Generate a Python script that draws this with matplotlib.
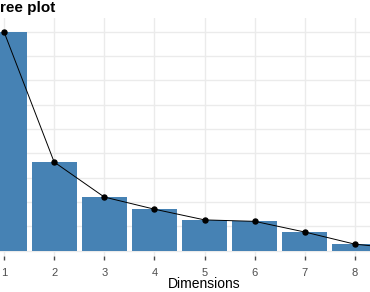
import matplotlib
matplotlib.use('Agg')
import matplotlib.pyplot as plt

plt.rcParams['font.family'] = ['Liberation Sans', 'DejaVu Sans']

# explained variance (%) per dimension
dims = [1, 2, 3, 4, 5, 6, 7, 8, 9]
variance = [45.0, 18.2, 11.0, 8.5, 6.3, 6.0, 3.8, 1.3, 0.3]
tick_labels = ['1', '2', '3', '4', '5', '6', '7', '8', '9']

fig = plt.figure(figsize=(3.7, 2.92), dpi=100)
# panel spans the whole width (the picture is cropped on both sides)
ax = fig.add_axes([0, (292 - 256) / 292, 1, (256 - 18) / 292])

ax.bar(dims, variance, width=0.9, color='#4682B4', zorder=2)
ax.plot(dims, variance, color='black', linewidth=0.7, marker='o',
        markersize=3.6, zorder=3)

ax.set_xticks(dims[:8])
ax.set_xticklabels(tick_labels[:8])
ax.set_yticks(range(0, 50, 5))
ax.set_xlim(0.92, 8.30)
ax.set_ylim(-1.13, 47.84)
ax.tick_params(axis='y', left=False, labelleft=False)
ax.tick_params(axis='x', length=3, width=1, color='#4D4D4D',
               labelcolor='#4D4D4D', labelsize=8, pad=6)
ax.grid(True, color='#EBEBEB', linewidth=1, zorder=0)
ax.set_axisbelow(True)
for s in ax.spines.values():
    s.set_visible(False)

# axis title is centred on the full (uncropped) panel, i.e. under dimension 5
fig.text(204 / 370, 1 - 284 / 292, 'Dimensions', ha='center', va='center',
         fontsize=10)

# title is cropped at the left edge in the reference
fig.text(0, 1 - 8 / 292, 'ree plot', ha='left', va='center',
         fontsize=11, fontweight='bold')

fig.savefig('out.png', dpi=100)
